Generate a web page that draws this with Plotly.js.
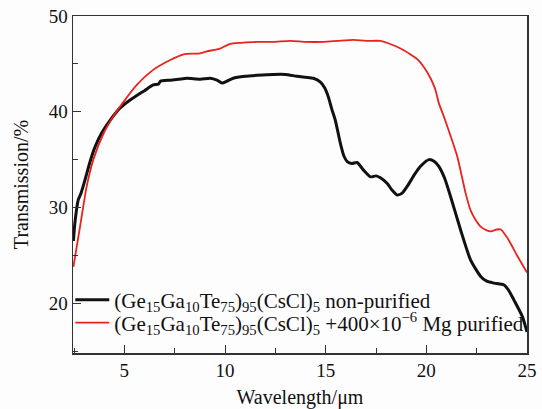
<!DOCTYPE html>
<html>
<head>
<meta charset="utf-8">
<script src="https://cdn.plot.ly/plotly-3.0.1.min.js"></script>
<style>html,body{margin:0;padding:0;background:#fff;}#chart{width:542px;height:409px;}</style>
</head>
<body>
<div id="chart"></div>
<script>
const seriesNames = [
  "(Ge<sub>15</sub>Ga<sub>10</sub>Te<sub>75</sub>)<sub>95</sub>(CsCl)<sub>5</sub> non-purified",
  "(Ge<sub>15</sub>Ga<sub>10</sub>Te<sub>75</sub>)<sub>95</sub>(CsCl)<sub>5</sub> +400×10<sup>−6</sup> Mg purified"
];
const blackX = [2.47,2.55,2.71,2.85,3.05,3.3,3.54,3.88,4.29,4.79,5.2,5.62,6.0,6.43,6.7,6.8,7.28,7.7,8.11,8.77,9.27,9.6,9.85,10.1,10.41,11.0,11.59,12.4,13.0,13.58,14.0,14.39,14.74,14.95,15.14,15.3,15.48,15.73,15.9,16.07,16.3,16.56,16.88,17.23,17.5,17.72,18.06,18.3,18.55,18.8,19.05,19.4,19.71,20.13,20.4,20.62,20.9,21.21,21.71,22.2,22.7,23.0,23.36,23.86,24.1,24.36,24.77,25.0];
const blackY = [26.5,28.5,30.8,31.5,32.9,34.8,36.3,37.8,39.1,40.4,41.1,41.7,42.2,42.8,42.9,43.2,43.3,43.4,43.5,43.4,43.5,43.3,43.0,43.2,43.5,43.7,43.8,43.9,43.9,43.7,43.6,43.5,43.1,42.5,41.5,40.3,39.1,36.7,35.4,34.8,34.6,34.7,33.9,33.2,33.3,33.1,32.5,31.8,31.3,31.5,32.2,33.4,34.3,35.0,34.8,34.3,33.1,31.1,27.6,24.5,22.8,22.3,22.1,21.9,21.3,20.3,18.6,17.0];
const redX = [2.47,2.8,3.13,3.46,3.96,4.45,4.95,5.62,6.45,7.28,7.94,8.77,9.1,9.76,10.26,10.8,11.59,12.4,13.25,14.0,14.9,15.6,16.4,17.0,17.72,18.3,18.72,19.2,19.55,19.9,20.21,20.45,20.62,20.87,21.2,21.54,21.79,21.95,22.2,22.45,22.7,23.0,23.2,23.5,23.7,24.03,24.53,25.0];
const redY = [23.8,28.0,32.2,35.0,37.7,39.5,41.0,42.8,44.4,45.4,46.0,46.1,46.3,46.6,47.1,47.2,47.3,47.3,47.4,47.3,47.3,47.4,47.5,47.4,47.4,47.0,46.6,46.0,45.5,44.6,43.5,42.3,40.9,39.5,37.5,35.3,33.0,31.5,29.7,28.7,28.0,27.6,27.5,27.7,27.7,26.8,24.9,23.2];
const xTicks = [5,10,15,20,25];
const yTicks = [20,30,40,50];

const traces = [
  {x: blackX, y: blackY, name: seriesNames[0], type: 'scatter', mode: 'lines', legend: 'legend',
   line: {color: '#111111', width: 3, shape: 'spline', smoothing: 0.6}},
  {x: redX, y: redY, name: seriesNames[1], type: 'scatter', mode: 'lines', legend: 'legend2',
   line: {color: '#e8231c', width: 1.8, shape: 'spline', smoothing: 0.6}}
];
const font = {family: '"Liberation Serif", "Times New Roman", serif', color: '#111', size: 18};
const legFont = {family: font.family, size: 21, color: '#111'};
const layout = {
  width: 542, height: 409,
  margin: {l: 73, r: 15, t: 16, b: 56},
  paper_bgcolor: '#fdfdfd', plot_bgcolor: '#fdfdfd',
  font: font,
  showlegend: true,
  legend: {x: -0.006, y: 0.157, xanchor: 'left', yanchor: 'middle', bgcolor: 'rgba(0,0,0,0)',
           font: legFont, itemwidth: 34},
  legend2: {x: -0.006, y: 0.089, xanchor: 'left', yanchor: 'middle', bgcolor: 'rgba(0,0,0,0)',
           font: legFont, itemwidth: 34},
  xaxis: {range: [2.45, 25], tickvals: xTicks, ticks: 'inside', ticklen: 8, tickcolor: '#333',
          showline: true, linecolor: '#333', linewidth: 1.5, mirror: true, showgrid: false, zeroline: false,
          minor: {dtick: 2.5, tick0: 0, ticks: 'inside', ticklen: 5, tickcolor: '#333', showgrid: false},
          title: {text: 'Wavelength/μm', font: {family: font.family, size: 20}, standoff: 10},
          tickfont: {family: font.family, size: 19}},
  yaxis: {range: [14.8, 50], tickvals: yTicks, ticks: 'inside', ticklen: 8, tickcolor: '#333',
          showline: true, linecolor: '#333', linewidth: 1.5, mirror: true, showgrid: false, zeroline: false,
          minor: {dtick: 5, tick0: 0, ticks: 'inside', ticklen: 5, tickcolor: '#333', showgrid: false},
          title: {text: 'Transmission/%', font: {family: font.family, size: 20}, standoff: 14},
          tickfont: {family: font.family, size: 19}}
};
Plotly.newPlot('chart', traces, layout, {staticPlot: true, displayModeBar: false});
</script>
</body>
</html>
